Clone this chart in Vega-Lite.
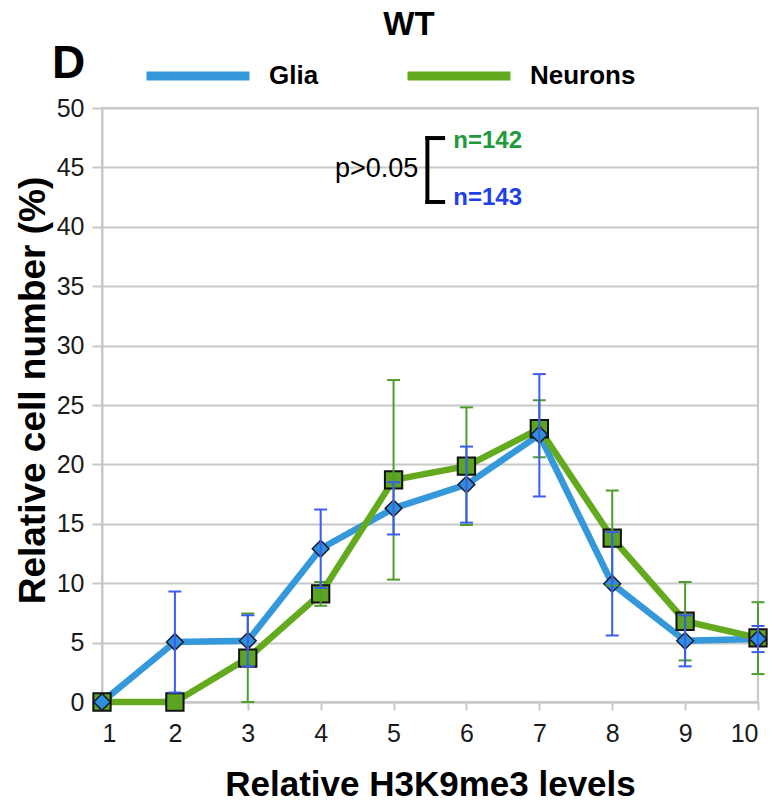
{
  "$schema": "https://vega.github.io/schema/vega-lite/v6.json",
  "width": 656,
  "height": 594,
  "autosize": {"type": "none"},
  "padding": {"left": 102, "top": 108, "right": 20, "bottom": 100},
  "background": "white",
  "title": {"text": "WT", "font": "Liberation Sans", "fontSize": 33, "fontWeight": "bold", "color": "black", "anchor": "middle", "frame": "group", "dx": -21, "dy": 26},
  "datasets": {
    "main": [
      {"level": 1, "series": "Glia", "value": 0, "lo": null, "hi": null},
      {"level": 2, "series": "Glia", "value": 5.05, "lo": 0.8, "hi": 9.3},
      {"level": 3, "series": "Glia", "value": 5.15, "lo": 3.0, "hi": 7.3},
      {"level": 4, "series": "Glia", "value": 12.9, "lo": 9.6, "hi": 16.2},
      {"level": 5, "series": "Glia", "value": 16.3, "lo": 14.1, "hi": 18.5},
      {"level": 6, "series": "Glia", "value": 18.3, "lo": 15.1, "hi": 21.5},
      {"level": 7, "series": "Glia", "value": 22.5, "lo": 17.3, "hi": 27.6},
      {"level": 8, "series": "Glia", "value": 9.95, "lo": 5.6, "hi": 14.3},
      {"level": 9, "series": "Glia", "value": 5.15, "lo": 3.0, "hi": 7.3},
      {"level": 10, "series": "Glia", "value": 5.3, "lo": 4.2, "hi": 6.4},
      {"level": 1, "series": "Neurons", "value": 0, "lo": null, "hi": null},
      {"level": 2, "series": "Neurons", "value": 0, "lo": null, "hi": null},
      {"level": 3, "series": "Neurons", "value": 3.7, "lo": 0, "hi": 7.45},
      {"level": 4, "series": "Neurons", "value": 9.1, "lo": 8.1, "hi": 10.1},
      {"level": 5, "series": "Neurons", "value": 18.7, "lo": 10.3, "hi": 27.1},
      {"level": 6, "series": "Neurons", "value": 19.85, "lo": 14.9, "hi": 24.8},
      {"level": 7, "series": "Neurons", "value": 23.0, "lo": 20.6, "hi": 25.4},
      {"level": 8, "series": "Neurons", "value": 13.8, "lo": 9.8, "hi": 17.8},
      {"level": 9, "series": "Neurons", "value": 6.8, "lo": 3.5, "hi": 10.1},
      {"level": 10, "series": "Neurons", "value": 5.4, "lo": 2.35, "hi": 8.4}
    ]
  },
  "data": {"name": "main"},
  "encoding": {
    "x": {"field": "level", "type": "quantitative", "scale": {"domain": [1, 10], "nice": false, "zero": false},
      "axis": {"title": "Relative H3K9me3 levels", "values": [1,2,3,4,5,6,7,8,9,10], "grid": false, "tickSize": 8, "labelPadding": 11, "titleX": 328, "titleY": 93, "titleBaseline": "alphabetic", "titleAlign": "center", "titleFontSize": 35}},
    "y": {"field": "value", "type": "quantitative", "scale": {"domain": [0, 50], "nice": false},
      "axis": {"title": "Relative cell number (%)", "values": [0,5,10,15,20,25,30,35,40,45,50], "grid": true, "tickSize": 10, "labelPadding": 8, "titleX": -58, "titleY": 282, "titleAngle": -90, "titleBaseline": "alphabetic", "titleAlign": "center", "titleFontSize": 37}}
  },
  "layer": [
    {
      "transform": [{"filter": "datum.series === 'Glia'"}],
      "mark": {"type": "line", "strokeWidth": 6.5},
      "encoding": {"color": {"field": "series", "type": "nominal", "scale": {"domain": ["Glia", "Neurons"], "range": ["#3498db", "#64aa1e"]}, "legend": {"title": null}}}
    },
    {
      "transform": [{"filter": "datum.series === 'Neurons'"}],
      "mark": {"type": "line", "strokeWidth": 6.5},
      "encoding": {"color": {"field": "series", "type": "nominal", "scale": {"domain": ["Glia", "Neurons"], "range": ["#3498db", "#64aa1e"]}, "legend": {"title": null}}}
    },
    {
      "transform": [{"filter": "datum.series === 'Neurons'"}],
      "mark": {"type": "point", "shape": "square", "size": 300, "filled": true, "fill": "#5ea423", "stroke": "#111111", "strokeWidth": 2, "opacity": 1}
    },
    {
      "transform": [{"filter": "datum.series === 'Glia'"}],
      "mark": {"type": "point", "shape": "diamond", "size": 280, "filled": true, "fill": "#2e8fe0", "stroke": "#1a1a2e", "strokeWidth": 1.5, "opacity": 1}
    },
    {
      "transform": [{"filter": "datum.series === 'Neurons' && datum.hi != null"}],
      "mark": {"type": "rule", "color": "#4f9e2c", "strokeWidth": 2},
      "encoding": {"y": {"field": "lo", "type": "quantitative"}, "y2": {"field": "hi"}}
    },
    {
      "transform": [{"filter": "datum.series === 'Neurons' && datum.hi != null"}],
      "mark": {"type": "tick", "orient": "horizontal", "color": "#4f9e2c", "size": 13, "thickness": 2, "opacity": 1},
      "encoding": {"y": {"field": "lo", "type": "quantitative"}}
    },
    {
      "transform": [{"filter": "datum.series === 'Neurons' && datum.hi != null"}],
      "mark": {"type": "tick", "orient": "horizontal", "color": "#4f9e2c", "size": 13, "thickness": 2, "opacity": 1},
      "encoding": {"y": {"field": "hi", "type": "quantitative"}}
    },
    {
      "transform": [{"filter": "datum.series === 'Glia' && datum.hi != null"}],
      "mark": {"type": "rule", "color": "#3a5cf0", "strokeWidth": 2},
      "encoding": {"y": {"field": "lo", "type": "quantitative"}, "y2": {"field": "hi"}}
    },
    {
      "transform": [{"filter": "datum.series === 'Glia' && datum.hi != null"}],
      "mark": {"type": "tick", "orient": "horizontal", "color": "#3a5cf0", "size": 13, "thickness": 2, "opacity": 1},
      "encoding": {"y": {"field": "lo", "type": "quantitative"}}
    },
    {
      "transform": [{"filter": "datum.series === 'Glia' && datum.hi != null"}],
      "mark": {"type": "tick", "orient": "horizontal", "color": "#3a5cf0", "size": 13, "thickness": 2, "opacity": 1},
      "encoding": {"y": {"field": "hi", "type": "quantitative"}}
    },
    {
      "data": {"values": [{"x": 5.464, "y": 42.09, "x2": 5.464, "y2": 47.47}, {"x": 5.464, "y": 47.47, "x2": 5.68, "y2": 47.47}, {"x": 5.464, "y": 42.09, "x2": 5.68, "y2": 42.09}]},
      "mark": {"type": "rule", "color": "black", "strokeWidth": 4, "strokeCap": "square"},
      "encoding": {"x": {"field": "x", "type": "quantitative"}, "y": {"field": "y", "type": "quantitative"}, "x2": {"field": "x2"}, "y2": {"field": "y2"}}
    },
    {
      "data": {"values": [{"x": 5.34, "y": 44.19, "text": "p>0.05"}]},
      "mark": {"type": "text", "align": "right", "baseline": "alphabetic", "font": "Liberation Sans", "fontSize": 27, "color": "black"},
      "encoding": {"x": {"field": "x", "type": "quantitative"}, "y": {"field": "y", "type": "quantitative"}, "text": {"field": "text"}}
    },
    {
      "data": {"values": [{"x": 5.82, "y": 46.63, "text": "n=142"}]},
      "mark": {"type": "text", "align": "left", "baseline": "alphabetic", "font": "Liberation Sans", "fontSize": 24, "fontWeight": "bold", "color": "#1e9a3c"},
      "encoding": {"x": {"field": "x", "type": "quantitative"}, "y": {"field": "y", "type": "quantitative"}, "text": {"field": "text"}}
    },
    {
      "data": {"values": [{"x": 5.82, "y": 41.84, "text": "n=143"}]},
      "mark": {"type": "text", "align": "left", "baseline": "alphabetic", "font": "Liberation Sans", "fontSize": 24, "fontWeight": "bold", "color": "#1f40e8"},
      "encoding": {"x": {"field": "x", "type": "quantitative"}, "y": {"field": "y", "type": "quantitative"}, "text": {"field": "text"}}
    },
    {
      "data": {"values": [{"x": 0.313, "y": 52.53, "text": "D"}]},
      "mark": {"type": "text", "align": "left", "baseline": "alphabetic", "font": "Liberation Sans", "fontSize": 46, "fontWeight": "bold", "color": "black"},
      "encoding": {"x": {"field": "x", "type": "quantitative"}, "y": {"field": "y", "type": "quantitative"}, "text": {"field": "text"}}
    }
  ],
  "config": {
    "view": {"stroke": "#c8c8c8", "strokeWidth": 2},
    "axis": {
      "labelFont": "Liberation Sans", "labelFontSize": 25, "labelColor": "#1a1a1a",
      "titleFont": "Liberation Sans", "titleFontSize": 33, "titleFontWeight": "bold", "titleColor": "black",
      "domainColor": "#c8c8c8", "domainWidth": 2, "tickColor": "#c8c8c8", "tickWidth": 2,
      "gridColor": "#c8c8c8", "gridWidth": 2
    },
    "legend": {
      "orient": "none", "legendX": 40, "legendY": -88, "direction": "horizontal",
      "symbolType": "stroke", "symbolSize": 10609, "symbolStrokeWidth": 9,
      "labelFont": "Liberation Sans", "labelFontSize": 26, "labelFontWeight": "bold", "labelColor": "black",
      "labelOffset": 15, "columnPadding": 70, "padding": 0
    }
  }
}
